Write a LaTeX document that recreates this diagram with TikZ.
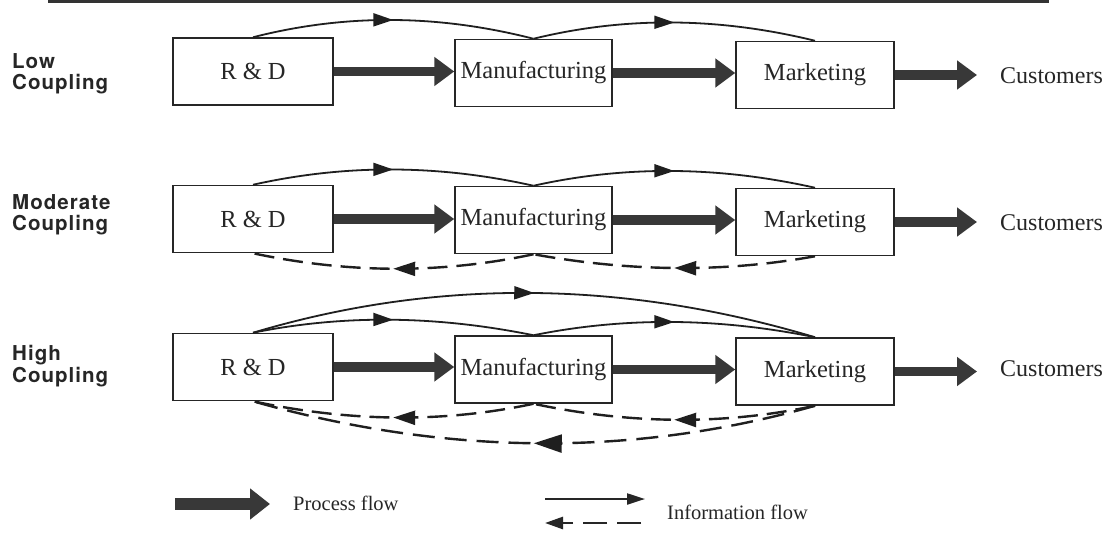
\documentclass[tikz,border=0pt]{standalone}
\usepackage{fontspec}
\setmainfont{Liberation Serif}
\newfontfamily\labelfont[LetterSpace=5]{TeX Gyre Heros}
\usetikzlibrary{arrows.meta,decorations.markings}
\begin{document}
\begin{tikzpicture}[x=1pt,y=-1pt,
  box/.style={draw=black!85, line width=1.5pt, minimum height=67pt, inner sep=0pt,
    font=\fontsize{24.5}{28}\selectfont, text=black!85},
  cust/.style={inner sep=0pt, anchor=west, font=\fontsize{24}{28}\selectfont, text=black!85},
  lab/.style={inner sep=0pt, anchor=west, align=left, text=black!85,
    font=\labelfont\bfseries\fontsize{20.5}{21.5}\selectfont},
  legendtext/.style={inner sep=0pt, anchor=west, font=\fontsize{20.5}{24}\selectfont, text=black!85},
  proc/.style={draw=black!78, line width=9.5pt, -{Triangle[length=20pt,width=28pt]}},
  info/.style={draw=black!88, line width=1.8pt, postaction={decorate},
    decoration={markings, mark=at position 0.5 with {\arrow{Triangle[length=20pt,width=13pt]}}}},
  back/.style={draw=black!88, line width=2.4pt, dash pattern=on 20pt off 9pt, postaction={decorate},
    decoration={markings, mark=at position 0.5 with {\arrow{Triangle[length=22pt,width=14pt]}}}},
  bigback/.style={draw=black!88, line width=2.4pt, dash pattern=on 22pt off 10pt, postaction={decorate},
    decoration={markings, mark=at position 0.5 with {\arrow{Triangle[length=28pt,width=18pt]}}}}
]
\useasboundingbox (0,0) rectangle (1107,537);
\fill[white] (0,0) rectangle (1107,537);

% top rule
\draw[line width=3pt, black!80] (48,2) -- (1049,2);

% ---------- Row 1: Low coupling ----------
\node[lab] (l1) at (12,74) {Low\\Coupling};
\node[box, minimum width=160pt] (rd1) at (253,71.5) {R \& D};
\node[box, minimum width=157pt] (mf1) at (533.5,73) {Manufacturing};
\node[box, minimum width=158pt] (mk1) at (815,75) {Marketing};
\node[cust] (cu1) at (1000,76) {Customers};
\coordinate (ct1) at (977,75);
\draw[proc] (rd1.east) -- (rd1.east -| mf1.west);
\draw[proc] (mf1.east) -- (mf1.east -| mk1.west);
\draw[proc] (mk1.east) -- (ct1);
\draw[info] (rd1.north) .. controls +(94,-24) and +(-94,-24) .. (mf1.north);
\draw[info] (mf1.north) .. controls +(94,-23) and +(-94,-23) .. (mk1.north);

% ---------- Row 2: Moderate coupling ----------
\node[lab] (l2) at (12,215) {Moderate\\Coupling};
\node[box, minimum width=160pt] (rd2) at (253,219) {R \& D};
\node[box, minimum width=157pt] (mf2) at (533.5,220) {Manufacturing};
\node[box, minimum width=158pt] (mk2) at (815,222) {Marketing};
\node[cust] (cu2) at (1000,223) {Customers};
\coordinate (ct2) at (977,222);
\draw[proc] (rd2.east) -- (rd2.east -| mf2.west);
\draw[proc] (mf2.east) -- (mf2.east -| mk2.west);
\draw[proc] (mk2.east) -- (ct2);
\draw[info] (rd2.north) .. controls +(94,-21) and +(-94,-21) .. (mf2.north);
\draw[info] (mf2.north) .. controls +(94,-21) and +(-94,-21) .. (mk2.north);
\draw[back] (mf2.south) .. controls +(-94,20) and +(94,20) .. (rd2.south);
\draw[back] (mk2.south) .. controls +(-94,17) and +(94,17) .. (mf2.south);

% ---------- Row 3: High coupling ----------
\node[lab] (l3) at (12,366) {High\\Coupling};
\node[box, minimum width=160pt] (rd3) at (253,367) {R \& D};
\node[box, minimum width=157pt] (mf3) at (533.5,369.5) {Manufacturing};
\node[box, minimum width=158pt] (mk3) at (815,371.5) {Marketing};
\node[cust] (cu3) at (1000,369) {Customers};
\coordinate (ct3) at (977,371.5);
\draw[proc] (rd3.east) -- (rd3.east -| mf3.west);
\draw[proc] (mf3.east) -- (mf3.east -| mk3.west);
\draw[proc] (mk3.east) -- (ct3);
\draw[info] (rd3.north) .. controls +(94,-19) and +(-94,-19) .. (mf3.north);
\draw[info] (mf3.north) .. controls +(94,-19) and +(-94,-19) .. (mk3.north);
\draw[info] (rd3.north) .. controls +(187,-56) and +(-187,-56) .. (mk3.north);
\draw[back] (mf3.south) .. controls +(-94,20) and +(94,20) .. (rd3.south);
\draw[back] (mk3.south) .. controls +(-94,20) and +(94,20) .. (mf3.south);
\draw[bigback] (mk3.south) .. controls +(-187,53) and +(187,53) .. (rd3.south);

% ---------- Legend ----------
\coordinate (lp0) at (175,504);
\coordinate (lp1) at (270,504);
\draw[proc, line width=12pt, -{Triangle[length=20pt,width=30pt]}] (lp0) -- (lp1);
\node[legendtext] (lpt) at (293,503) {Process flow};
\coordinate (li0) at (545,499);
\coordinate (li1) at (645,499);
\draw[draw=black!85, line width=2.2pt, -{Triangle[length=18pt,width=11pt]}] (li0) -- (li1);
\coordinate (ld0) at (641,523);
\coordinate (ld1) at (545,523);
\draw[draw=black!85, line width=2.6pt, dash pattern=on 24pt off 10pt, -{Triangle[length=18pt,width=12pt]}] (ld0) -- (ld1);
\node[legendtext] (lit) at (667,512) {Information flow};
\end{tikzpicture}
\end{document}
